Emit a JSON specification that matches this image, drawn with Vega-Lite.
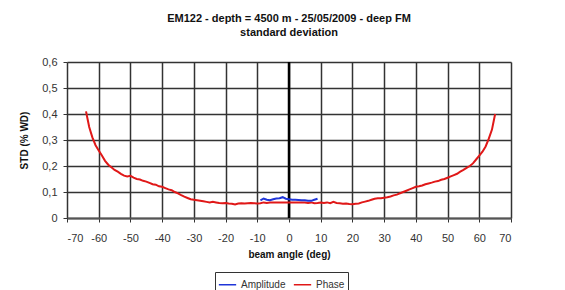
{
  "$schema": "https://vega.github.io/schema/vega-lite/v6.json",
  "width": 444,
  "height": 156,
  "autosize": {"type": "none"},
  "padding": {"left": 67, "top": 62, "right": 54, "bottom": 72},
  "background": "white",
  "title": {
    "text": ["EM122 - depth = 4500 m - 25/05/2009 - deep FM", "standard deviation"],
    "font": "Liberation Sans",
    "fontSize": 11,
    "fontWeight": "bold",
    "color": "#111",
    "anchor": "middle",
    "offset": 18,
    "lineHeight": 14
  },
  "config": {
    "view": {"stroke": null},
    "font": "Liberation Sans",
    "axisX": {
      "values": [-70, -60, -50, -40, -30, -20, -10, 0, 10, 20, 30, 40, 50, 60, 70],
      "labelExpr": "'' + datum.value",
      "labelOverlap": false,
      "grid": true, "gridColor": "#333", "gridWidth": 1.5,
      "domainColor": "#555", "domainWidth": 2,
      "tickColor": "#333", "tickSize": 4,
      "labelFont": "Liberation Sans", "labelFontSize": 11, "labelColor": "#333", "labelPadding": 10,
      "titleFont": "Liberation Sans", "titleFontSize": 10, "titleFontWeight": "bold", "titleColor": "#111", "titlePadding": 6
    },
    "axisY": {
      "labelExpr": "datum.value == 0 ? '0' : replace(format(datum.value, '.1f'), '.', ',')",
      "labelOverlap": false,
      "grid": true, "gridColor": "#333", "gridWidth": 1.5,
      "domain": false,
      "tickColor": "#333", "tickSize": 4,
      "labelFont": "Liberation Sans", "labelFontSize": 11, "labelColor": "#333", "labelPadding": 6,
      "titleFont": "Liberation Sans", "titleFontSize": 10, "titleFontWeight": "bold", "titleColor": "#111", "titlePadding": 12
    }
  },
  "datasets": {
    "lines": [
      {"series": "Phase", "angle": -64, "std": 0.41},
      {"series": "Phase", "angle": -63.5, "std": 0.38},
      {"series": "Phase", "angle": -63, "std": 0.35},
      {"series": "Phase", "angle": -62, "std": 0.31},
      {"series": "Phase", "angle": -61, "std": 0.28},
      {"series": "Phase", "angle": -60, "std": 0.26},
      {"series": "Phase", "angle": -59, "std": 0.24},
      {"series": "Phase", "angle": -58, "std": 0.22},
      {"series": "Phase", "angle": -57, "std": 0.205},
      {"series": "Phase", "angle": -56, "std": 0.195},
      {"series": "Phase", "angle": -55, "std": 0.185},
      {"series": "Phase", "angle": -54, "std": 0.178},
      {"series": "Phase", "angle": -53, "std": 0.17},
      {"series": "Phase", "angle": -52, "std": 0.163},
      {"series": "Phase", "angle": -51, "std": 0.16},
      {"series": "Phase", "angle": -50, "std": 0.162},
      {"series": "Phase", "angle": -49, "std": 0.155},
      {"series": "Phase", "angle": -48, "std": 0.15},
      {"series": "Phase", "angle": -47, "std": 0.148},
      {"series": "Phase", "angle": -46, "std": 0.143},
      {"series": "Phase", "angle": -45, "std": 0.14},
      {"series": "Phase", "angle": -44, "std": 0.135},
      {"series": "Phase", "angle": -43, "std": 0.13},
      {"series": "Phase", "angle": -42, "std": 0.128},
      {"series": "Phase", "angle": -41, "std": 0.122},
      {"series": "Phase", "angle": -40, "std": 0.12},
      {"series": "Phase", "angle": -39, "std": 0.115},
      {"series": "Phase", "angle": -38, "std": 0.11},
      {"series": "Phase", "angle": -37, "std": 0.107},
      {"series": "Phase", "angle": -36, "std": 0.1},
      {"series": "Phase", "angle": -35, "std": 0.095},
      {"series": "Phase", "angle": -34, "std": 0.088},
      {"series": "Phase", "angle": -33, "std": 0.082},
      {"series": "Phase", "angle": -32, "std": 0.077},
      {"series": "Phase", "angle": -31, "std": 0.072},
      {"series": "Phase", "angle": -30, "std": 0.07},
      {"series": "Phase", "angle": -29, "std": 0.068},
      {"series": "Phase", "angle": -28, "std": 0.066},
      {"series": "Phase", "angle": -27, "std": 0.064},
      {"series": "Phase", "angle": -26, "std": 0.062},
      {"series": "Phase", "angle": -25, "std": 0.06},
      {"series": "Phase", "angle": -24, "std": 0.062},
      {"series": "Phase", "angle": -23, "std": 0.06},
      {"series": "Phase", "angle": -22, "std": 0.058},
      {"series": "Phase", "angle": -21, "std": 0.057},
      {"series": "Phase", "angle": -20, "std": 0.058},
      {"series": "Phase", "angle": -19, "std": 0.056},
      {"series": "Phase", "angle": -18, "std": 0.055},
      {"series": "Phase", "angle": -17, "std": 0.052},
      {"series": "Phase", "angle": -16, "std": 0.056},
      {"series": "Phase", "angle": -15, "std": 0.057},
      {"series": "Phase", "angle": -14, "std": 0.056},
      {"series": "Phase", "angle": -13, "std": 0.057},
      {"series": "Phase", "angle": -12, "std": 0.058},
      {"series": "Phase", "angle": -11, "std": 0.057},
      {"series": "Phase", "angle": -10, "std": 0.056},
      {"series": "Phase", "angle": -9, "std": 0.057},
      {"series": "Phase", "angle": -8, "std": 0.06},
      {"series": "Phase", "angle": -7, "std": 0.058},
      {"series": "Phase", "angle": -6, "std": 0.06},
      {"series": "Phase", "angle": -5, "std": 0.06},
      {"series": "Phase", "angle": 0, "std": 0.06},
      {"series": "Phase", "angle": 5, "std": 0.06},
      {"series": "Phase", "angle": 6, "std": 0.058},
      {"series": "Phase", "angle": 7, "std": 0.06},
      {"series": "Phase", "angle": 8, "std": 0.057},
      {"series": "Phase", "angle": 9, "std": 0.058},
      {"series": "Phase", "angle": 10, "std": 0.06},
      {"series": "Phase", "angle": 11, "std": 0.058},
      {"series": "Phase", "angle": 12, "std": 0.06},
      {"series": "Phase", "angle": 13, "std": 0.057},
      {"series": "Phase", "angle": 14, "std": 0.062},
      {"series": "Phase", "angle": 15, "std": 0.058},
      {"series": "Phase", "angle": 16, "std": 0.057},
      {"series": "Phase", "angle": 17, "std": 0.055},
      {"series": "Phase", "angle": 18, "std": 0.056},
      {"series": "Phase", "angle": 19, "std": 0.054},
      {"series": "Phase", "angle": 20, "std": 0.053},
      {"series": "Phase", "angle": 21, "std": 0.055},
      {"series": "Phase", "angle": 22, "std": 0.056},
      {"series": "Phase", "angle": 23, "std": 0.06},
      {"series": "Phase", "angle": 24, "std": 0.063},
      {"series": "Phase", "angle": 25, "std": 0.066},
      {"series": "Phase", "angle": 26, "std": 0.07},
      {"series": "Phase", "angle": 27, "std": 0.074},
      {"series": "Phase", "angle": 28, "std": 0.076},
      {"series": "Phase", "angle": 29, "std": 0.076},
      {"series": "Phase", "angle": 30, "std": 0.078},
      {"series": "Phase", "angle": 31, "std": 0.08},
      {"series": "Phase", "angle": 32, "std": 0.083},
      {"series": "Phase", "angle": 33, "std": 0.087},
      {"series": "Phase", "angle": 34, "std": 0.09},
      {"series": "Phase", "angle": 35, "std": 0.095},
      {"series": "Phase", "angle": 36, "std": 0.1},
      {"series": "Phase", "angle": 37, "std": 0.105},
      {"series": "Phase", "angle": 38, "std": 0.11},
      {"series": "Phase", "angle": 39, "std": 0.115},
      {"series": "Phase", "angle": 40, "std": 0.12},
      {"series": "Phase", "angle": 41, "std": 0.122},
      {"series": "Phase", "angle": 42, "std": 0.125},
      {"series": "Phase", "angle": 43, "std": 0.13},
      {"series": "Phase", "angle": 44, "std": 0.133},
      {"series": "Phase", "angle": 45, "std": 0.136},
      {"series": "Phase", "angle": 46, "std": 0.14},
      {"series": "Phase", "angle": 47, "std": 0.142},
      {"series": "Phase", "angle": 48, "std": 0.147},
      {"series": "Phase", "angle": 49, "std": 0.15},
      {"series": "Phase", "angle": 50, "std": 0.155},
      {"series": "Phase", "angle": 51, "std": 0.16},
      {"series": "Phase", "angle": 52, "std": 0.165},
      {"series": "Phase", "angle": 53, "std": 0.17},
      {"series": "Phase", "angle": 54, "std": 0.178},
      {"series": "Phase", "angle": 55, "std": 0.185},
      {"series": "Phase", "angle": 56, "std": 0.193},
      {"series": "Phase", "angle": 57, "std": 0.2},
      {"series": "Phase", "angle": 58, "std": 0.21},
      {"series": "Phase", "angle": 59, "std": 0.225},
      {"series": "Phase", "angle": 60, "std": 0.24},
      {"series": "Phase", "angle": 61, "std": 0.255},
      {"series": "Phase", "angle": 62, "std": 0.275},
      {"series": "Phase", "angle": 63, "std": 0.305},
      {"series": "Phase", "angle": 64, "std": 0.34},
      {"series": "Phase", "angle": 64.5, "std": 0.37},
      {"series": "Phase", "angle": 65, "std": 0.4},
      {"series": "Amplitude", "angle": -9, "std": 0.068},
      {"series": "Amplitude", "angle": -8, "std": 0.075},
      {"series": "Amplitude", "angle": -7, "std": 0.07},
      {"series": "Amplitude", "angle": -6, "std": 0.068},
      {"series": "Amplitude", "angle": -5, "std": 0.072},
      {"series": "Amplitude", "angle": -4, "std": 0.075},
      {"series": "Amplitude", "angle": -3, "std": 0.076},
      {"series": "Amplitude", "angle": -2, "std": 0.08},
      {"series": "Amplitude", "angle": -1, "std": 0.074},
      {"series": "Amplitude", "angle": 0, "std": 0.072},
      {"series": "Amplitude", "angle": 1, "std": 0.07},
      {"series": "Amplitude", "angle": 2, "std": 0.07},
      {"series": "Amplitude", "angle": 3, "std": 0.069},
      {"series": "Amplitude", "angle": 4, "std": 0.068},
      {"series": "Amplitude", "angle": 5, "std": 0.068},
      {"series": "Amplitude", "angle": 6, "std": 0.066},
      {"series": "Amplitude", "angle": 7, "std": 0.066},
      {"series": "Amplitude", "angle": 8, "std": 0.07},
      {"series": "Amplitude", "angle": 9, "std": 0.074}
    ],
    "zero": [{"angle": 0}]
  },
  "layer": [
    {
      "data": {"name": "zero"},
      "mark": {"type": "rule", "color": "#000", "strokeWidth": 2.5},
      "encoding": {
        "x": {"field": "angle", "type": "quantitative", "scale": {"domain": [-70, 70], "nice": false}, "title": "beam angle (deg)"}
      }
    },
    {
      "data": {"name": "lines"},
      "transform": [{"filter": "datum.series == 'Phase'"}],
      "mark": {"type": "line", "strokeWidth": 2},
      "encoding": {
        "x": {"field": "angle", "type": "quantitative", "scale": {"domain": [-70, 70], "nice": false}, "title": "beam angle (deg)"},
        "y": {"field": "std", "type": "quantitative", "scale": {"domain": [0, 0.6], "nice": false}, "title": "STD (% WD)",
              "axis": {"values": [0, 0.1, 0.2, 0.3, 0.4, 0.5, 0.6], "tickCount": 7}},
        "color": {
          "field": "series", "type": "nominal",
          "scale": {"domain": ["Amplitude", "Phase"], "range": ["#1f35d8", "#e01818"]},
          "legend": {
            "title": null,
            "orient": "none",
            "legendX": 148,
            "legendY": 210,
            "direction": "horizontal",
            "symbolType": "stroke",
            "symbolSize": 300,
            "symbolStrokeWidth": 1.5,
            "labelFont": "Liberation Sans",
            "labelFontSize": 10,
            "labelColor": "#333",
            "strokeColor": "#333",
            "padding": 3,
            "columnPadding": 4,
            "symbolOffset": 0
          }
        }
      }
    },
    {
      "data": {"name": "lines"},
      "transform": [{"filter": "datum.series == 'Amplitude'"}],
      "mark": {"type": "line", "strokeWidth": 2},
      "encoding": {
        "x": {"field": "angle", "type": "quantitative", "scale": {"domain": [-70, 70], "nice": false}, "title": "beam angle (deg)"},
        "y": {"field": "std", "type": "quantitative", "scale": {"domain": [0, 0.6], "nice": false}, "title": "STD (% WD)",
              "axis": {"values": [0, 0.1, 0.2, 0.3, 0.4, 0.5, 0.6], "tickCount": 7}},
        "color": {"field": "series", "type": "nominal"}
      }
    }
  ]
}
